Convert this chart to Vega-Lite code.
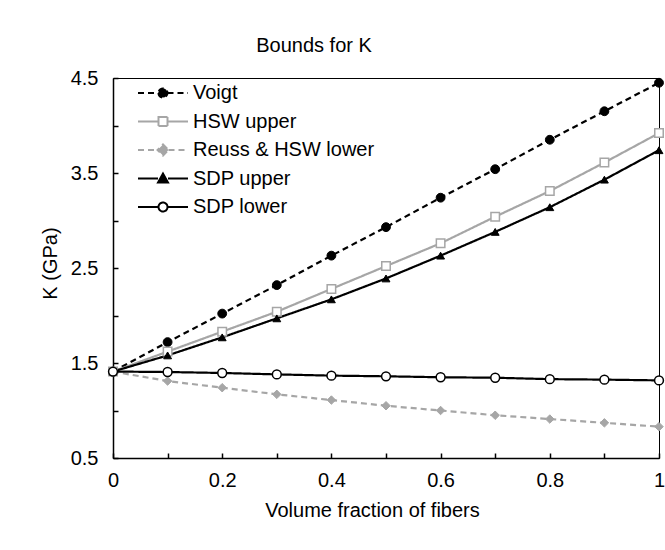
{
  "$schema": "https://vega.github.io/schema/vega-lite/v6.json",
  "autosize": "none",
  "width": 546,
  "height": 380,
  "padding": {"left": 113, "top": 78, "right": 6, "bottom": 92},
  "background": "white",
  "config": {
    "font": "Liberation Sans",
    "view": {"stroke": "black", "strokeWidth": 1},
    "axis": {"labelFont": "Liberation Sans", "titleFont": "Liberation Sans", "labelColor": "black", "titleColor": "black", "titleFontWeight": "normal", "domainColor": "black", "domainWidth": 1.5, "tickColor": "black", "tickWidth": 1.5, "grid": false}
  },
  "title": {"text": "Bounds for K", "fontSize": 20, "fontWeight": "normal", "font": "Liberation Sans", "color": "black", "anchor": "middle", "dx": -72, "offset": 12},
  "data": {"values": [
    {"v": 0, "series": "Voigt", "K": 1.41},
    {"v": 0.1, "series": "Voigt", "K": 1.72},
    {"v": 0.2, "series": "Voigt", "K": 2.02},
    {"v": 0.3, "series": "Voigt", "K": 2.32},
    {"v": 0.4, "series": "Voigt", "K": 2.63},
    {"v": 0.5, "series": "Voigt", "K": 2.93},
    {"v": 0.6, "series": "Voigt", "K": 3.24},
    {"v": 0.7, "series": "Voigt", "K": 3.54},
    {"v": 0.8, "series": "Voigt", "K": 3.85},
    {"v": 0.9, "series": "Voigt", "K": 4.15},
    {"v": 1, "series": "Voigt", "K": 4.45},
    {"v": 0, "series": "HSW upper", "K": 1.41},
    {"v": 0.1, "series": "HSW upper", "K": 1.62},
    {"v": 0.2, "series": "HSW upper", "K": 1.83},
    {"v": 0.3, "series": "HSW upper", "K": 2.04},
    {"v": 0.4, "series": "HSW upper", "K": 2.28},
    {"v": 0.5, "series": "HSW upper", "K": 2.52},
    {"v": 0.6, "series": "HSW upper", "K": 2.76},
    {"v": 0.7, "series": "HSW upper", "K": 3.04},
    {"v": 0.8, "series": "HSW upper", "K": 3.31},
    {"v": 0.9, "series": "HSW upper", "K": 3.61},
    {"v": 1, "series": "HSW upper", "K": 3.92},
    {"v": 0, "series": "Reuss & HSW lower", "K": 1.41},
    {"v": 0.1, "series": "Reuss & HSW lower", "K": 1.31},
    {"v": 0.2, "series": "Reuss & HSW lower", "K": 1.24},
    {"v": 0.3, "series": "Reuss & HSW lower", "K": 1.17},
    {"v": 0.4, "series": "Reuss & HSW lower", "K": 1.11},
    {"v": 0.5, "series": "Reuss & HSW lower", "K": 1.05},
    {"v": 0.6, "series": "Reuss & HSW lower", "K": 1.0},
    {"v": 0.7, "series": "Reuss & HSW lower", "K": 0.95},
    {"v": 0.8, "series": "Reuss & HSW lower", "K": 0.91},
    {"v": 0.9, "series": "Reuss & HSW lower", "K": 0.87},
    {"v": 1, "series": "Reuss & HSW lower", "K": 0.83},
    {"v": 0, "series": "SDP upper", "K": 1.41},
    {"v": 0.1, "series": "SDP upper", "K": 1.58},
    {"v": 0.2, "series": "SDP upper", "K": 1.77},
    {"v": 0.3, "series": "SDP upper", "K": 1.97},
    {"v": 0.4, "series": "SDP upper", "K": 2.17},
    {"v": 0.5, "series": "SDP upper", "K": 2.39},
    {"v": 0.6, "series": "SDP upper", "K": 2.63},
    {"v": 0.7, "series": "SDP upper", "K": 2.88},
    {"v": 0.8, "series": "SDP upper", "K": 3.14},
    {"v": 0.9, "series": "SDP upper", "K": 3.43},
    {"v": 1, "series": "SDP upper", "K": 3.74},
    {"v": 0, "series": "SDP lower", "K": 1.41},
    {"v": 0.1, "series": "SDP lower", "K": 1.405},
    {"v": 0.2, "series": "SDP lower", "K": 1.395},
    {"v": 0.3, "series": "SDP lower", "K": 1.38},
    {"v": 0.4, "series": "SDP lower", "K": 1.367},
    {"v": 0.5, "series": "SDP lower", "K": 1.36},
    {"v": 0.6, "series": "SDP lower", "K": 1.35},
    {"v": 0.7, "series": "SDP lower", "K": 1.345},
    {"v": 0.8, "series": "SDP lower", "K": 1.33},
    {"v": 0.9, "series": "SDP lower", "K": 1.325},
    {"v": 1, "series": "SDP lower", "K": 1.317}
  ]},
  "encoding": {
    "x": {"field": "v", "type": "quantitative",
      "scale": {"domain": [0, 1], "nice": false, "zero": false},
      "axis": {"title": "Volume fraction of fibers", "titleFontSize": 20, "labelFontSize": 20, "titlePadding": 10, "titleX": 259,
        "values": [0, 0.1, 0.2, 0.3, 0.4, 0.5, 0.6, 0.7, 0.8, 0.9, 1],
        "labelExpr": "round(datum.value*10) % 2 == 0 ? (datum.value == 0 ? '0' : datum.value == 1 ? '1' : format(datum.value, '.1f')) : ''",
        "tickSize": -5, "labelPadding": 17, "labelFlush": false, "labelOverlap": false}},
    "y": {"field": "K", "type": "quantitative",
      "scale": {"domain": [0.5, 4.5], "nice": false, "zero": false},
      "axis": {"title": "K (GPa)", "titleFontSize": 20, "labelFontSize": 20, "titlePadding": 10, "titleY": 185,
        "values": [0.5, 1, 1.5, 2, 2.5, 3, 3.5, 4, 4.5],
        "labelExpr": "round(datum.value*2) % 2 == 1 ? format(datum.value, '.1f') : ''",
        "tickSize": -5, "labelPadding": 20, "labelOverlap": false}}
  },
  "layer": [
    {
      "mark": {"type": "line", "strokeWidth": 2.2},
      "encoding": {
        "color": {"field": "series", "type": "nominal",
          "scale": {"domain": ["Voigt", "HSW upper", "Reuss & HSW lower", "SDP upper", "SDP lower"], "range": ["black", "#a6a6a6", "#a6a6a6", "black", "black"]},
          "legend": {
            "title": null, "orient": "none", "legendX": 24, "legendY": 5,
            "labelFontSize": 20, "labelFont": "Liberation Sans", "labelColor": "black", "labelOffset": 4, "labelLimit": 0,
            "symbolSize": 2500, "rowPadding": 8.5, "padding": 0, "clipHeight": 20,
            "encode": {"symbols": {"update": {
              "shape": {"signal": "datum.value == 'Voigt' ? 'M-1,0L-0.18,0M0.18,0L1,0M-0.18,0A0.18,0.18,0,1,0,0.18,0A0.18,0.18,0,1,0,-0.18,0Z' : datum.value == 'HSW upper' ? 'M-1,0L-0.18,0M0.18,0L1,0M-0.18,-0.18L0.18,-0.18L0.18,0.18L-0.18,0.18Z' : datum.value == 'Reuss & HSW lower' ? 'M-1,0L-0.22,0M0.22,0L1,0M0,-0.22L0.22,0L0,0.22L-0.22,0Z' : datum.value == 'SDP upper' ? 'M-1,0L-0.2,0M0.2,0L1,0M0,-0.2L0.2,0.16L-0.2,0.16Z' : 'M-1,0L-0.18,0M0.18,0L1,0M-0.18,0A0.18,0.18,0,1,0,0.18,0A0.18,0.18,0,1,0,-0.18,0Z'"},
              "size": {"value": 2500},
              "fill": {"signal": "datum.value == 'Voigt' || datum.value == 'SDP upper' ? 'black' : datum.value == 'Reuss & HSW lower' ? '#a6a6a6' : 'white'"},
              "stroke": {"signal": "datum.value == 'HSW upper' || datum.value == 'Reuss & HSW lower' ? '#a6a6a6' : 'black'"},
              "strokeDash": {"signal": "datum.value == 'Voigt' || datum.value == 'Reuss & HSW lower' ? [5, 3] : [1, 0]"},
              "strokeWidth": {"value": 2},
              "opacity": {"value": 1}
            }}}
          }},
        "strokeDash": {"field": "series", "type": "nominal",
          "scale": {"domain": ["Voigt", "HSW upper", "Reuss & HSW lower", "SDP upper", "SDP lower"], "range": [[6, 4], [1, 0], [6, 4], [1, 0], [1, 0]]},
          "legend": null}
      }
    },
    {
      "transform": [{"filter": "datum.series == 'Voigt'"}],
      "mark": {"type": "point", "shape": "circle", "filled": true, "fill": "black", "stroke": "black", "strokeWidth": 1, "size": 78, "opacity": 1}
    },
    {
      "transform": [{"filter": "datum.series == 'HSW upper'"}],
      "mark": {"type": "point", "shape": "square", "filled": true, "fill": "white", "stroke": "#a6a6a6", "strokeWidth": 1.5, "size": 72, "opacity": 1}
    },
    {
      "transform": [{"filter": "datum.series == 'Reuss & HSW lower'"}],
      "mark": {"type": "point", "shape": "diamond", "filled": true, "fill": "#a6a6a6", "stroke": "#a6a6a6", "strokeWidth": 1, "size": 72, "opacity": 1}
    },
    {
      "transform": [{"filter": "datum.series == 'SDP upper'"}],
      "mark": {"type": "point", "shape": "triangle-up", "filled": true, "fill": "black", "stroke": "black", "strokeWidth": 1, "size": 62, "opacity": 1}
    },
    {
      "transform": [{"filter": "datum.series == 'SDP lower'"}],
      "mark": {"type": "point", "shape": "circle", "filled": true, "fill": "white", "stroke": "black", "strokeWidth": 1.5, "size": 78, "opacity": 1}
    }
  ]
}
